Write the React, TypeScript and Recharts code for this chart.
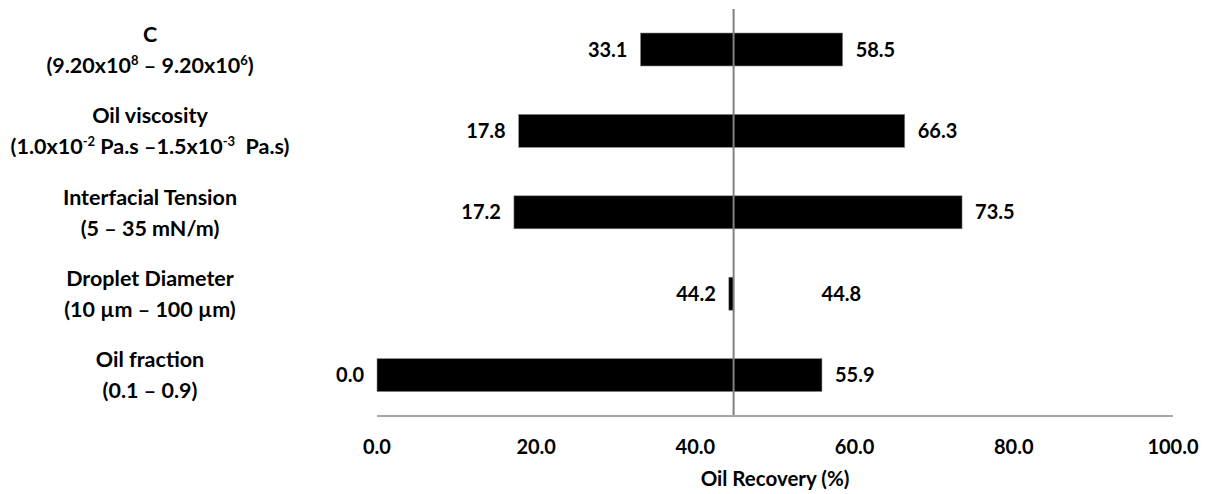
import { BarChart, Bar, XAxis, YAxis, ReferenceLine, Label } from 'recharts';

// Tornado chart: oil recovery range for each factor swept low -> high
const FACTORS = ['C', 'Oil viscosity', 'Interfacial Tension', 'Droplet Diameter', 'Oil fraction'];
const FACTOR_RANGES = [
  '(9.20x10^8 – 9.20x10^6)',
  '(1.0x10^-2 Pa.s –1.5x10^-3  Pa.s)',
  '(5 – 35 mN/m)',
  '(10 µm – 100 µm)',
  '(0.1 – 0.9)',
];
const LOW = [33.1, 17.8, 17.2, 44.2, 0.0];
const HIGH = [58.5, 66.3, 73.5, 44.8, 55.9];
const BASE_CASE = 44.8;
const X_TICKS = [0, 20, 40, 60, 80, 100];

const data = FACTORS.map((name, i) => ({
  name,
  sub: FACTOR_RANGES[i],
  low: LOW[i],
  high: HIGH[i],
  range: [LOW[i], HIGH[i]],
}));

const FONT = 'Lato, "Liberation Sans", sans-serif';
const BOLD = { fontWeight: 700 };

// "10^8" -> 10 with a raised 8
function RichText({ text, x, y }: { text: string; x: number; y: number }) {
  const parts = text.split(/\^(-?\d+)/);
  return (
    <text x={x} y={y} textAnchor="middle" fontSize={21.5} fill="#000" style={{ ...BOLD, whiteSpace: 'pre' }}>
      {parts.map((p, i) =>
        i % 2 === 1 ? (
          <tspan key={i} dy={-8} fontSize={13}>
            {p}
          </tspan>
        ) : (
          <tspan key={i} dy={i > 0 ? 8 : 0}>
            {p}
          </tspan>
        )
      )}
    </text>
  );
}

function FactorTick(props: any) {
  const { y, index } = props;
  const row = data[index];
  if (!row) return null;
  return (
    <g>
      <RichText text={row.name} x={150} y={y - 8} />
      <RichText text={row.sub} x={150} y={y + 23} />
    </g>
  );
}

function RangeBar(props: any) {
  const { x, y, width, height, payload } = props;
  const cy = y + height / 2 + 7;
  // a high end sitting on the base case has no bar, so its label is pushed clear of the line
  const highGap = payload.high - BASE_CASE < 0.5 ? 88 : 13;
  return (
    <g>
      <rect x={x} y={y} width={Math.max(width, 0)} height={height} fill="#000" stroke="#8c8c8c" strokeWidth={0.6} />
      <text x={x - 13} y={cy} textAnchor="end" fontSize={20} fill="#000" style={BOLD}>
        {payload.low.toFixed(1)}
      </text>
      <text x={x + width + highGap} y={cy} textAnchor="start" fontSize={20} fill="#000" style={BOLD}>
        {payload.high.toFixed(1)}
      </text>
    </g>
  );
}

function AxisTitle(props: any) {
  const { viewBox } = props;
  if (!viewBox) return null;
  return (
    <text x={viewBox.x + viewBox.width / 2} y={486} textAnchor="middle" fontSize={20.5} fill="#000" style={BOLD}>
      Oil Recovery (%)
    </text>
  );
}

export default function App() {
  return (
    <div style={{ position: 'absolute', left: 0, top: 0, fontFamily: FONT, background: '#fff' }}>
      <BarChart
        width={1206}
        height={494}
        data={data}
        layout="vertical"
        margin={{ top: 9, right: 33, left: 0, bottom: 0 }}
        barSize={33}
      >
        <XAxis
          type="number"
          domain={[0, 100]}
          ticks={X_TICKS}
          tickFormatter={(v: number) => v.toFixed(1)}
          tick={{ fill: '#000', fontSize: 20, style: BOLD }}
          tickLine={false}
          tickMargin={18}
          axisLine={{ stroke: '#a6a6a6', strokeWidth: 2 }}
          height={78}
        >
          <Label content={<AxisTitle />} position="insideBottom" />
        </XAxis>
        <YAxis
          type="category"
          dataKey="name"
          width={377}
          axisLine={false}
          tickLine={false}
          tick={<FactorTick />}
          interval={0}
        />
        <Bar dataKey="range" shape={<RangeBar />} isAnimationActive={false} />
        <ReferenceLine x={BASE_CASE} stroke="#808080" strokeWidth={2} />
      </BarChart>
    </div>
  );
}
